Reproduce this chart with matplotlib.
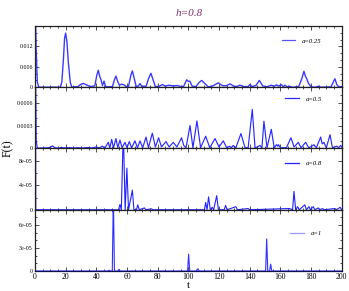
import matplotlib
matplotlib.use("Agg")
import matplotlib.pyplot as plt
from matplotlib.ticker import MultipleLocator, FixedLocator, FixedFormatter

plt.rcParams['font.family'] = ['Liberation Serif', 'DejaVu Serif']

title = "h=0.8"
labels = ["a=0.25", "a=0.5", "a=0.8", "a=1"]

t1 = [0, 0.7, 1.5, 2.5, 16.5, 17.5, 18.5, 19.3, 20, 20.8, 21.8, 23, 24, 28, 30, 31.5, 33, 36, 39, 40.3,
      41.3, 42.2, 43, 44, 45, 46, 47, 50.5, 51.8, 52.8, 54, 55, 56.5, 58, 59.5, 61, 62.5, 63.5, 64.5, 66,
      67.5, 68.5, 69.5, 72.5, 74, 75.6, 77, 78.5, 81, 83.2, 85, 87, 90, 93, 95, 97, 98.9, 100, 101, 102.5,
      105, 107, 108.7, 110.5, 113, 116, 119.5, 122, 124.5, 127.2, 130, 132, 133.7, 136, 139, 140.2, 141.5,
      144, 146.3, 148.5, 151, 154, 156, 157.5, 159, 160.5, 162, 163, 164.5, 166, 167, 168.5, 172, 174,
      175.4, 176.3, 177.2, 178.3, 180, 183, 184.8, 186.5, 193, 194.5, 195.6, 196.8, 198, 200]
f1 = [0.03, 0.012, 0.0015, 0, 0, 0.0015, 0.008, 0.0145, 0.0159, 0.0135, 0.007, 0.0015, 0, 0.0002, 0.0009,
      0.0011, 0.0008, 0.0002, 0.0004, 0.0035, 0.005, 0.0032, 0.0023, 0.0005, 0.0018, 0.0003, 0.0001, 0.0002,
      0.0022, 0.0033, 0.0016, 0.0006, 0.0009, 0.0007, 0.0002, 0.0003, 0.0035, 0.0048, 0.003, 0.0002, 0.0004,
      0.0011, 0.0003, 0.0003, 0.0025, 0.0041, 0.0022, 0.0002, 0.0003, 0.0008, 0.0003, 0.0006, 0.0004, 0.0005,
      0.0002, 0.0003, 0.0022, 0.0017, 0.0018, 0.0003, 0.0002, 0.0014, 0.002, 0.0012, 0.0001, 0.0004, 0.0013,
      0.0005, 0.0004, 0.001, 0.0002, 0.0003, 0.0006, 0.0002, 0.0002, 0.0008, 0.0002, 0.0005, 0.002, 0.0004,
      0.0001, 0.0006, 0.0003, 0.0007, 0.0003, 0.0008, 0.0002, 0.0006, 0.0001, 0.0003, 0.0001, 0, 0.0002,
      0.0025, 0.0047, 0.0033, 0.0025, 0.0012, 0.0001, 0, 0.0003, 0, 0.0001, 0.0015, 0.0025, 0.0008, 0.0001,
      0.0002]

t2 = [0, 0.8, 1.5, 9, 11.5, 13, 16, 17, 19, 22, 25, 28, 31, 34, 37, 40, 42, 44, 45.5, 47.8, 48.8, 50, 51.2,
      52.8, 54, 55.4, 56.8, 58.7, 60, 61.5, 63, 65.2, 66.8, 68.5, 70.2, 72.4, 74, 76.5, 78.5, 80.6, 82.5,
      85.4, 87.5, 90.2, 92.5, 95.6, 97, 98.5, 101.1, 103, 105.6, 108, 111.3, 114, 117.4, 120, 122.8, 125,
      127, 128, 129.3, 131, 134.3, 137, 139, 141.7, 143.5, 145, 146.7, 148, 149.3, 151.3, 154.1, 156, 157.5,
      158.2, 158.8, 160, 164, 166.9, 169, 171.7, 173.5, 176.5, 178.5, 180.5, 181.9, 183.5, 186.3, 187.3,
      188.4, 190, 192.4, 194, 196.7, 198, 199.4, 200]
f2 = [0.002, 0.0001, 0.000005, 0.00001, 0.000034, 0.000008, 0.000005, 0.000015, 0.000008, 0.000012,
      0.000006, 0.00001, 0.000006, 0.000012, 0.000008, 0.00002, 0.000008, 0.00003, 0.000005, 0.00008,
      0.000005, 0.00012, 0.00001, 0.00013, 0.00001, 0.00011, 0.00001, 0.00008, 0.00001, 0.00009, 0.00001,
      0.0001, 0.00001, 0.0001, 0.00001, 0.00015, 0.00001, 0.0002, 0.00002, 0.00014, 0.00002, 0.00009,
      0.00002, 0.00008, 0.00002, 0.00014, 0.00004, 0.00001, 0.0003, 0.00001, 0.00036, 0.00001, 0.00016,
      0.00001, 0.00013, 0.00002, 0.0001, 0.00001, 0.00003, 0.00001, 0.00004, 0.00001, 0.000195, 0.00001,
      0.00001, 0.00051, 0.00001, 0.00002, 0.00004, 0.00001, 0.000356, 0.00001, 0.00025, 0.00001, 0.00005,
      0.00003, 0.00005, 0.00001, 0.00001, 0.00014, 0.00002, 0.00008, 0.00001, 0.00008, 0.00001, 0.00003,
      0.00005, 0.00001, 0.00015, 0.00006, 0.00008, 0.00001, 0.00018, 0.00001, 0.00003, 0.00001, 0.00004,
      0.00002]

t3 = [0, 0.5, 54.5, 55.4, 56.3, 57.6, 58.8, 59.9, 61, 63.5, 64.5, 66.2, 67, 68, 71.4, 72.3, 76, 77, 110.5,
      111.3, 112.2, 113.2, 114.3, 115.6, 116.5, 118.5, 119.6, 123.4, 124.3, 125.3, 131, 132, 139, 140, 166,
      168, 168.9, 170, 171.3, 172.3, 176, 177, 178.7, 179.6, 181.5, 182.5, 184.8, 185.6, 187.6, 188.5, 195.6,
      196.5, 199, 200]
f3 = [0.001, 0, 0, 8.6e-6, 0, 1.3e-4, 0, 6.8e-5, 0, 3.2e-5, 0, 0, 8e-6, 0, 3e-6, 0, 1.5e-6, 0, 0, 1.2e-5, 0,
      2.1e-5, 0, 4e-6, 0, 2.3e-5, 0, 0, 7e-6, 0, 5e-6, 0, 2e-6, 0, 2e-6, 0, 3e-5, 0, 5e-6, 0, 8e-6, 0, 5e-6,
      0, 5e-6, 0, 3e-6, 0, 2e-6, 0, 2e-6, 0, 4e-6, 0]

t4 = [0, 47.5, 48.3, 49.2, 50.4, 51.1, 51.8, 54, 54.8, 55.6, 99.5, 100.2, 100.9, 105.5, 106.3, 107, 150.4,
      151.1, 151.8, 153, 153.7, 154.4, 200]
f4 = [0, 0, 1e-6, 0, 0, 1.0e-4, 0, 0, 2.2e-6, 0, 0, 2.2e-5, 0, 0, 3e-6, 0, 0, 4.2e-5, 0, 0, 9e-6, 0, 0]

ylims = [0.018, 0.0008, 1e-4, 8e-5]
yticks = [[0, 0.006, 0.012], [0, 0.0003, 0.0006], [0, 4e-5, 8e-5], [0, 3e-5, 6e-5]]
yticklabels = [["0", "0.006", "0.012"], ["0", "0.0003", "0.0006"], ["0", "4e-05", "8e-05"], ["0", "3e-05", "6e-05"]]
yminor = [0.002, 0.0001, 2e-5, 1e-5]
xticks = [0, 20, 40, 60, 80, 100, 120, 140, 160, 180, 200]

series = [(t1, f1), (t2, f2), (t3, f3), (t4, f4)]
line_colors = ['#3a3aff', '#2a2aff', '#2222ff', '#3030ff']
line_widths = [1.0, 0.85, 0.8, 0.8]
legend_colors = ['#5555ff', '#2a2aff', '#2222ff', '#9999ff']
legend_y = [0.757, 0.81, 0.76, 0.61]

fig = plt.figure(figsize=(3.49, 2.91), dpi=100)
gs = fig.add_gridspec(4, 1, left=0.1003, right=0.979, top=0.9107, bottom=0.0687, hspace=0)
axes = [fig.add_subplot(gs[i]) for i in range(4)]

for i, ax in enumerate(axes):
    t, f = series[i]
    ax.plot(t, f, color=line_colors[i], lw=line_widths[i], solid_joinstyle='round')
    ax.set_xlim(0, 200)
    ax.set_ylim(0, ylims[i])
    ax.xaxis.set_major_locator(FixedLocator(xticks))
    ax.xaxis.set_minor_locator(MultipleLocator(5))
    ax.yaxis.set_major_locator(FixedLocator(yticks[i]))
    ax.yaxis.set_major_formatter(FixedFormatter(yticklabels[i]))
    ax.yaxis.set_minor_locator(MultipleLocator(yminor[i]))
    ax.tick_params(which='both', direction='in', top=True, right=True, width=0.6, colors='#333333')
    ax.tick_params(which='major', length=3)
    ax.tick_params(which='minor', length=1.5)
    ax.tick_params(axis='y', labelsize=4.3, pad=1.5, labelcolor='black')
    ax.tick_params(axis='x', labelsize=5.5, pad=1.5, labelcolor='black')
    for s in ax.spines.values():
        s.set_linewidth(0.9)
        s.set_color('#222222')
    ax.spines['bottom'].set_color('#101050')
    if i < 3:
        ax.tick_params(axis='x', labelbottom=False)
    ax.plot([], [], color=legend_colors[i], lw=0.9, label=labels[i])
    h, l = ax.get_legend_handles_labels()
    ax.legend(h[-1:], l[-1:], loc='center right', bbox_to_anchor=(0.95, legend_y[i]), frameon=False,
              prop={'size': 4.8, 'style': 'italic'}, handlelength=2.0, handletextpad=1.0,
              borderpad=0.2)

axes[-1].set_xlabel("t", fontsize=7.5, labelpad=0)
fig.text(0.022, 0.49, "F(t)", rotation=90, fontsize=8.5, ha='center', va='center')
fig.text(0.542, 0.952, title, fontsize=8, style='italic', color='#7f2f72', ha='center', va='center')

fig.savefig("out.png", dpi=100)
